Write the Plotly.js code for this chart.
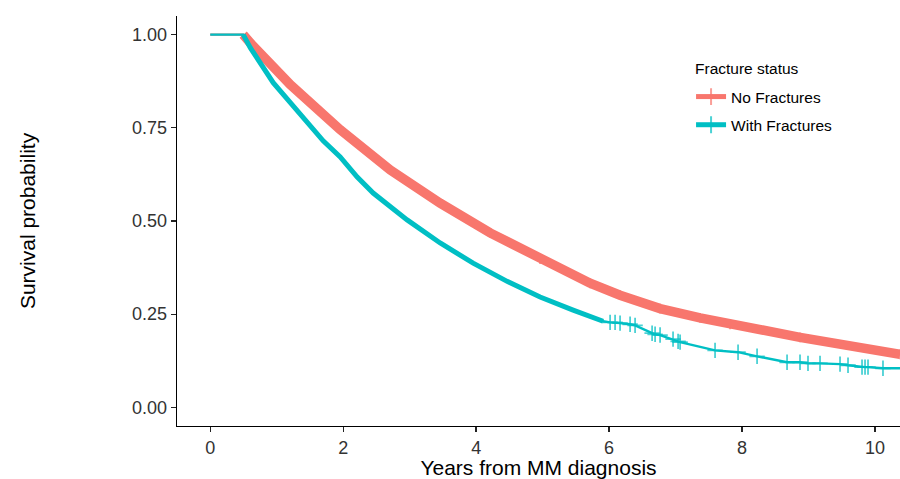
<!DOCTYPE html>
<html>
<head>
<meta charset="utf-8">
<script src="https://cdn.plot.ly/plotly-3.0.1.min.js"></script>
<style>html,body{margin:0;padding:0;background:#fff;overflow:hidden}#chart{width:900px;height:479px}</style>
</head>
<body>
<div id="chart"></div>
<script>
// No Fractures (red) – survival
const noFracYears = [0, 0.496, 0.602, 1.203, 1.955, 2.707, 3.459, 4.211, 4.962, 5.714, 6.165, 6.767, 7.368, 7.820, 8.872, 10.376];
const noFracSurv  = [1.0, 1.0, 0.978, 0.866, 0.745, 0.637, 0.548, 0.468, 0.398, 0.333, 0.301, 0.265, 0.240, 0.223, 0.188, 0.142];

// With Fractures (teal) – dense early part
const fracYears = [0, 0.496, 0.602, 0.947, 1.203, 1.459, 1.699, 1.955, 2.211, 2.451, 2.962, 3.459, 3.955, 4.466, 4.962, 5.459, 5.910];
const fracSurv  = [1.0, 1.0, 0.965, 0.871, 0.817, 0.763, 0.715, 0.672, 0.618, 0.575, 0.503, 0.441, 0.387, 0.338, 0.296, 0.261, 0.231];

// With Fractures (teal) – sparse tail with visible censor marks
const fracTailYears = [6.015, 6.090, 6.165, 6.316, 6.391, 6.647, 6.692, 6.767, 6.962, 7.038, 7.068, 7.594, 7.940, 8.226, 8.677, 8.872, 8.992, 9.173, 9.474, 9.594, 9.805, 9.850, 9.895, 10.120, 10.376];
const fracTailSurv  = [0.228, 0.228, 0.226, 0.223, 0.220, 0.199, 0.196, 0.194, 0.183, 0.177, 0.175, 0.153, 0.148, 0.137, 0.121, 0.121, 0.118, 0.118, 0.116, 0.113, 0.108, 0.108, 0.108, 0.105, 0.105];

const seriesNames = ['No Fractures', 'With Fractures'];
const legendTitle = 'Fracture status';
const xTicks = [0, 2, 4, 6, 8, 10];
const yTicks = [0, 0.25, 0.5, 0.75, 1.0];
const yTickLabels = ['0.00', '0.25', '0.50', '0.75', '1.00'];

const RED = '#F8766D', TEAL = '#00BFC4';
const FONT = 'Liberation Sans, Arial, sans-serif';

// thin full-length curves (flat start visible, legend entries)
const redSizes = noFracYears.map((_, i) => (i < 2 ? 0 : 7));
const tealAllYears = fracYears.concat(fracTailYears);
const tealAllSurv = fracSurv.concat(fracTailSurv);
const tealSizes = tealAllYears.map((_, i) => (i < fracYears.length || i === tealAllYears.length - 1 ? 0 : 11));

const traces = [
  { x: noFracYears, y: noFracSurv, name: seriesNames[0], mode: 'lines+markers', legendgroup: 'a',
    line: { color: RED, width: 2.4 },
    marker: { symbol: 'cross-thin', size: redSizes, color: RED, line: { color: RED, width: 2 } } },
  { x: noFracYears.slice(1), y: noFracSurv.slice(1), mode: 'lines', showlegend: false, legendgroup: 'a',
    line: { color: RED, width: 9.5 }, hoverinfo: 'skip' },
  { x: fracYears.slice(1), y: fracSurv.slice(1), mode: 'lines', showlegend: false, legendgroup: 'b',
    line: { color: TEAL, width: 5 }, hoverinfo: 'skip' },
  { x: tealAllYears, y: tealAllSurv, name: seriesNames[1], mode: 'lines+markers', legendgroup: 'b',
    line: { color: TEAL, width: 2.4 },
    marker: { symbol: 'cross-thin', size: tealSizes, color: TEAL, line: { color: TEAL, width: 1.8 } } }
];

const axisCommon = {
  showline: true, linecolor: '#000', linewidth: 1.3, mirror: false,
  ticks: 'outside', ticklen: 5, tickwidth: 1.3, tickcolor: '#222',
  showgrid: false, zeroline: false,
  tickfont: { family: FONT, size: 18, color: '#333' }
};

const layout = {
  width: 900, height: 479,
  margin: { l: 177, r: 0, t: 16, b: 53 },
  paper_bgcolor: '#fff', plot_bgcolor: '#fff',
  font: { family: FONT, color: '#000' },
  xaxis: Object.assign({}, axisCommon, {
    range: [-0.5, 10.376], tickvals: xTicks,
    title: { text: 'Years from MM diagnosis', font: { size: 21, color: '#000' }, standoff: 4 }
  }),
  yaxis: Object.assign({}, axisCommon, {
    range: [-0.05, 1.05], tickvals: yTicks, ticktext: yTickLabels,
    title: { text: 'Survival probability', font: { size: 21, color: '#000' }, standoff: 90 }
  }),
  legend: {
    x: 0.711, y: 0.8439, xanchor: 'left', yanchor: 'top',
    bgcolor: 'rgba(0,0,0,0)', itemsizing: 'constant', traceorder: 'grouped',
    font: { size: 15.5, color: '#000' },
    tracegroupgap: 5
  },
  annotations: [{
    text: legendTitle, xref: 'paper', yref: 'paper', x: 0.7137, y: 0.873,
    xanchor: 'left', yanchor: 'middle', showarrow: false,
    font: { family: FONT, size: 15.5, color: '#000' }
  }],
  showlegend: true
};

Plotly.newPlot('chart', traces, layout, { displayModeBar: false, staticPlot: true });
</script>
</body>
</html>
